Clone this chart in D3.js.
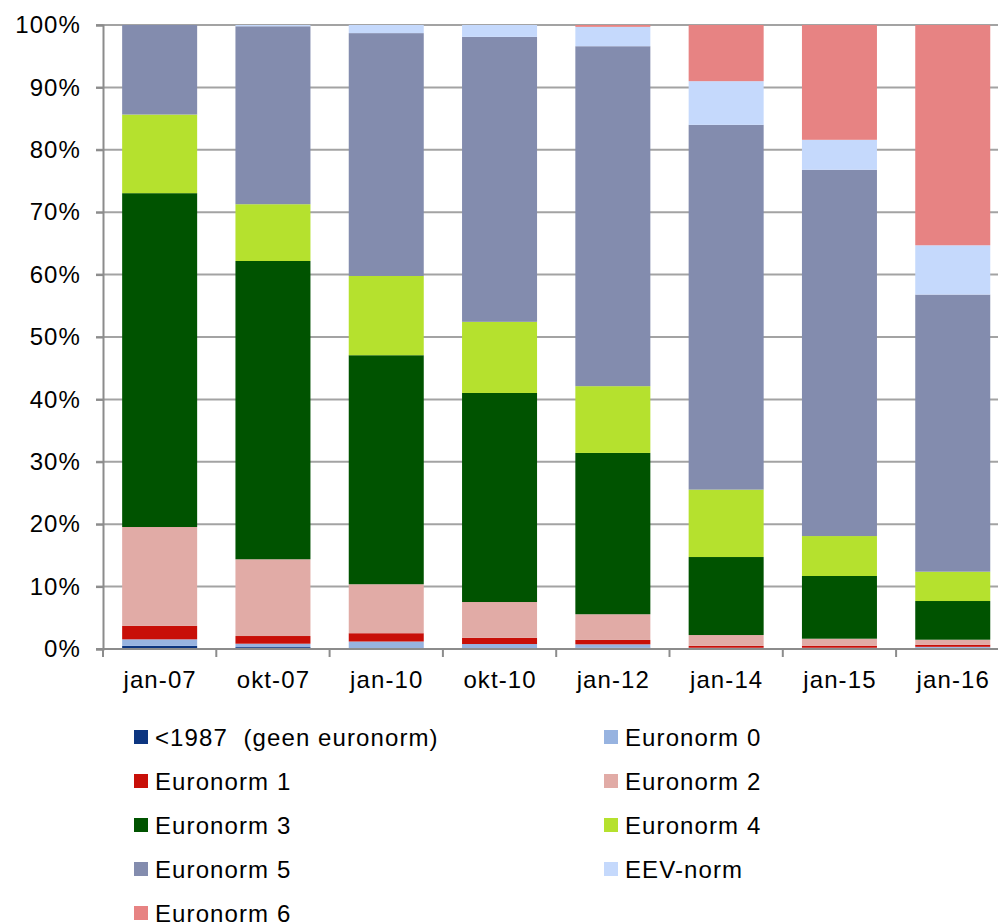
<!DOCTYPE html>
<html>
<head>
<meta charset="utf-8">
<script src="https://cdnjs.cloudflare.com/ajax/libs/d3/7.8.5/d3.min.js"></script>
<style>
  body { margin: 0; background: #fff; }
  svg text { font-family: "Liberation Sans", Arial, sans-serif; fill: #000; letter-spacing: 1.1px; }
</style>
</head>
<body>
<div id="chart"></div>
<script>
var width = 998,
  height = 923;

// data (% of fleet)
var periods = ['jan-07', 'okt-07', 'jan-10', 'okt-10', 'jan-12', 'jan-14', 'jan-15', 'jan-16'];
var seriesNames = ['<1987  (geen euronorm)', 'Euronorm 0', 'Euronorm 1', 'Euronorm 2', 'Euronorm 3',
  'Euronorm 4', 'Euronorm 5', 'EEV-norm', 'Euronorm 6'];
var seriesColors = ['#0c3580', '#97b3e0', '#c80f08', '#e1aba6', '#005300',
  '#b5e12e', '#838cae', '#c5d9fc', '#e78383'];

var pre1987   = [0.5, 0.3, 0.1, 0.1, 0.2, 0.05, 0.05, 0.2];
var euro0     = [1.05, 0.55, 1.1, 0.7, 0.55, 0.15, 0.15, 0.15];
var euro1     = [2.15, 1.23, 1.33, 1.0, 0.7, 0.3, 0.33, 0.34];
var euro2     = [15.85, 12.3, 7.85, 5.73, 4.12, 1.74, 1.12, 0.8];
var euro3     = [53.5, 47.8, 36.7, 33.5, 25.85, 12.5, 10.05, 6.2];
var euro4     = [12.6, 9.1, 12.7, 11.4, 10.7, 10.8, 6.4, 4.7];
var euro5     = [14.35, 28.52, 38.92, 45.67, 54.48, 58.46, 58.7, 44.41];
var eev       = [0, 0.2, 1.3, 1.9, 3.1, 7.0, 4.8, 7.9];
var euro6     = [0, 0, 0, 0, 0.3, 9.0, 18.4, 35.3];

var yTicks = [0, 10, 20, 30, 40, 50, 60, 70, 80, 90, 100];

var seriesValues = [pre1987, euro0, euro1, euro2, euro3, euro4, euro5, eev, euro6];

var rows = periods.map(function(p, i) {
  var r = { period: p };
  seriesNames.forEach(function(s, j) { r[s] = seriesValues[j][i]; });
  return r;
});

var svg = d3.select('#chart').append('svg')
  .attr('width', width)
  .attr('height', height);

var plotLeft = 103,
  plotTop = 25,
  plotBottom = 649,
  step = 113.3;

var x = d3.scaleBand()
  .domain(periods)
  .range([plotLeft, plotLeft + step * periods.length])
  .paddingInner(0.338)
  .paddingOuter(0.169);

var y = d3.scaleLinear()
  .domain([0, 100])
  .range([plotBottom, plotTop]);

// gridlines
svg.append('g')
  .selectAll('line')
  .data(yTicks.filter(function(d) { return d > 0; }))
  .enter().append('line')
  .attr('x1', plotLeft - 7)
  .attr('x2', plotLeft + step * periods.length)
  .attr('y1', function(d) { return y(d); })
  .attr('y2', function(d) { return y(d); })
  .attr('stroke', '#a3a3a3')
  .attr('stroke-width', 2);

// stacked bars
var stack = d3.stack().keys(seriesNames);
var layers = stack(rows);

svg.append('g')
  .selectAll('g')
  .data(layers)
  .enter().append('g')
  .attr('fill', function(d, i) { return seriesColors[i]; })
  .selectAll('rect')
  .data(function(d) { return d; })
  .enter().append('rect')
  .attr('x', function(d) { return x(d.data.period); })
  .attr('width', x.bandwidth())
  .attr('y', function(d) { return y(d[1]); })
  .attr('height', function(d) { return y(d[0]) - y(d[1]); });

// y axis
var yAxis = svg.append('g')
  .attr('transform', 'translate(' + plotLeft + ',0)')
  .call(d3.axisLeft(y).tickValues(yTicks).tickSize(7).tickPadding(15)
    .tickFormat(function(d) { return d + '%'; }));
yAxis.select('.domain').attr('stroke', '#8c8c8c').attr('stroke-width', 2);
yAxis.selectAll('.tick line').attr('stroke', '#8c8c8c').attr('stroke-width', 2);
yAxis.selectAll('.tick text')
  .attr('font-size', 24)
  .style('font-family', '"Liberation Sans", Arial, sans-serif');

// x axis
var xAxis = svg.append('g')
  .attr('transform', 'translate(0,' + plotBottom + ')');
xAxis.append('line')
  .attr('x1', plotLeft - 7)
  .attr('x2', plotLeft + step * periods.length)
  .attr('stroke', '#8c8c8c')
  .attr('stroke-width', 2);
xAxis.selectAll('.xtick')
  .data(d3.range(periods.length + 1))
  .enter().append('line')
  .attr('x1', function(i) { return plotLeft + i * step; })
  .attr('x2', function(i) { return plotLeft + i * step; })
  .attr('y1', 0)
  .attr('y2', 8)
  .attr('stroke', '#8c8c8c')
  .attr('stroke-width', 2);
xAxis.selectAll('.xlabel')
  .data(periods)
  .enter().append('text')
  .attr('x', function(d) { return x(d) + x.bandwidth() / 2 + 0.5; })
  .attr('y', 39)
  .attr('text-anchor', 'middle')
  .attr('font-size', 24)
  .text(function(d) { return d; });

// legend
var legend = svg.append('g');
var item = legend.selectAll('g')
  .data(seriesNames)
  .enter().append('g')
  .attr('transform', function(d, i) {
    var col = i % 2, row = Math.floor(i / 2);
    return 'translate(' + (134 + col * 470) + ',' + (737 + row * 44) + ')';
  });
item.append('rect')
  .attr('x', 0)
  .attr('y', -7)
  .attr('width', 14)
  .attr('height', 14)
  .attr('fill', function(d, i) { return seriesColors[i]; });
item.append('text')
  .attr('x', 21)
  .attr('y', 8.5)
  .attr('font-size', 24)
  .attr('xml:space', 'preserve')
  .style('white-space', 'pre')
  .text(function(d) { return d; });
</script>
</body>
</html>
